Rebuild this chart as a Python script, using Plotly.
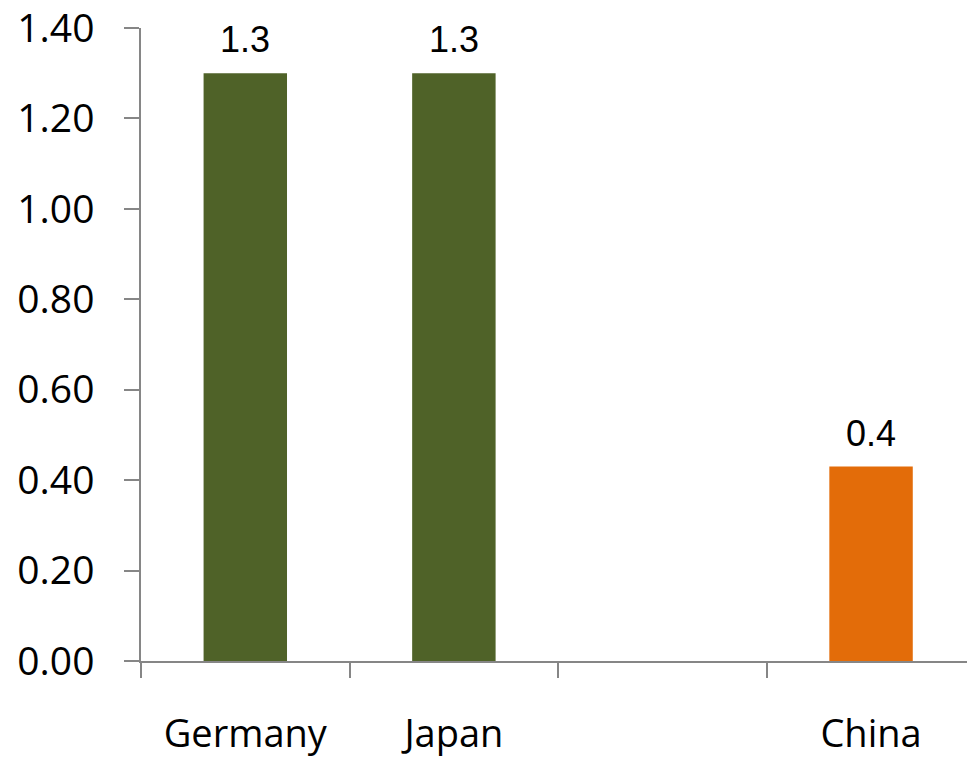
import plotly.graph_objects as go

categories = ["Germany", "Japan", " ", "China"]
values = [1.3, 1.3, None, 0.43]
colors = ["#4F6228", "#4F6228", "#4F6228", "#E36C09"]
y_ticks = [0.0, 0.2, 0.4, 0.6, 0.8, 1.0, 1.2, 1.4]

fig = go.Figure()
fig.add_trace(go.Bar(
    x=categories, y=values, marker=dict(color=colors, line=dict(width=0)),
    hoverinfo="skip",
))

for c, v in zip(categories, values):
    if v is None:
        continue
    fig.add_annotation(
        x=c, y=v, text=f"{v:.1f}", showarrow=False, yanchor="bottom",
        yshift=11, font=dict(family="Liberation Sans, Arial", size=36, color="black"),
    )

fig.update_layout(
    width=967, height=759,
    margin=dict(l=141, r=0, t=28, b=98),
    paper_bgcolor="white", plot_bgcolor="white",
    showlegend=False, bargap=0.6,
)
fig.update_xaxes(
    type="category", range=[-0.5, 3.46], tickson="boundaries",
    ticks="outside", ticklen=15, tickwidth=1.5, tickcolor="#868686",
    showline=True, linecolor="#868686", linewidth=1.5,
    showgrid=False, zeroline=False, automargin=False,
    tickfont=dict(family="Open Sans", size=38, color="black"),
    ticklabelstandoff=39, ticklabeloverflow="allow",
)
fig.update_yaxes(
    range=[0, 1.4], tickvals=y_ticks, tickformat=".2f",
    ticks="outside", ticklen=15, tickwidth=1.5, tickcolor="#868686",
    showline=True, linecolor="#868686", linewidth=1.5,
    showgrid=False, zeroline=False, automargin=False,
    tickfont=dict(family="Open Sans", size=39, color="black"),
    ticklabelstandoff=22, ticklabeloverflow="allow",
)

fig.write_html(
    "out.html",
    config={"displayModeBar": False},
    post_script="document.body.style.margin='0';",
)
